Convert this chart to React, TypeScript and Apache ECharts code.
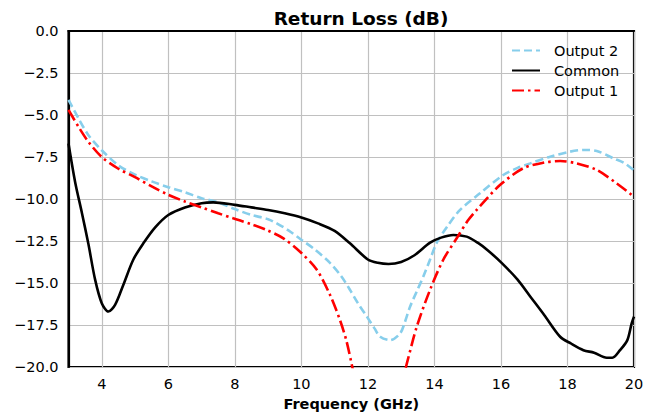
import React, { useEffect, useRef } from "react";
import * as echarts from "echarts";

const titleText = "Return Loss (dB)";
const xAxisName = "Frequency (GHz)";
const seriesNames = ["Output 2", "Common", "Output 1"];

const freqOutput2 = [3.0, 3.3, 3.6, 4.0, 4.5, 5.0, 5.5, 6.0, 6.5, 7.0, 7.5, 8.0, 8.5, 9.0, 9.26, 9.6, 10.01, 10.4, 10.86, 11.2, 11.46, 11.7, 11.97, 12.2, 12.37, 12.67, 12.97, 13.1, 13.27, 13.47, 13.67, 13.87, 14.07, 14.4, 14.77, 15.37, 16.07, 16.5, 16.88, 17.48, 18.08, 18.48, 18.88, 19.38, 19.7, 20.0];
const lossOutput2 = [-4.1, -5.2, -6.2, -7.1, -8.0, -8.55, -8.95, -9.3, -9.6, -9.95, -10.2, -10.6, -10.95, -11.2, -11.45, -11.85, -12.44, -13.0, -13.8, -14.6, -15.4, -16.2, -17.0, -17.7, -18.2, -18.4, -18.0, -17.4, -16.4, -15.5, -14.6, -13.6, -12.6, -11.6, -10.65, -9.66, -8.57, -8.15, -7.88, -7.48, -7.18, -7.08, -7.14, -7.58, -7.85, -8.3];

const freqCommon = [3.0, 3.2, 3.4, 3.6, 3.8, 4.0, 4.2, 4.4, 4.65, 4.95, 5.25, 5.6, 6.0, 6.5, 7.0, 7.35, 8.0, 8.5, 9.0, 9.5, 10.0, 10.5, 11.0, 11.46, 12.0, 12.3, 12.62, 13.0, 13.4, 13.87, 14.2, 14.57, 14.97, 15.3, 15.6, 16.02, 16.5, 16.88, 17.3, 17.78, 18.1, 18.48, 18.8, 19.18, 19.35, 19.58, 19.8, 19.93, 20.0];
const lossCommon = [-6.7, -9.0, -10.8, -12.7, -14.8, -16.2, -16.7, -16.3, -15.1, -13.6, -12.64, -11.7, -10.95, -10.5, -10.25, -10.2, -10.35, -10.5, -10.65, -10.85, -11.1, -11.45, -11.9, -12.64, -13.6, -13.8, -13.87, -13.75, -13.35, -12.6, -12.3, -12.14, -12.24, -12.6, -13.05, -13.8, -14.8, -15.8, -16.9, -18.2, -18.6, -19.0, -19.15, -19.45, -19.45, -19.0, -18.4, -17.4, -17.0];

const freqOutput1 = [3.0, 3.3, 3.6, 4.0, 4.5, 5.0, 5.5, 6.0, 6.5, 7.0, 7.5, 7.95, 8.5, 8.96, 9.46, 10.01, 10.46, 10.86, 11.16, 11.35, 11.51, 11.7, 12.3, 12.9, 13.17, 13.47, 13.87, 14.27, 14.67, 15.0, 15.27, 15.97, 16.67, 17.27, 17.78, 18.28, 18.88, 19.48, 19.93, 20.0];
const lossOutput1 = [-4.7, -5.7, -6.6, -7.5, -8.2, -8.7, -9.25, -9.75, -10.15, -10.5, -10.85, -11.15, -11.5, -11.85, -12.34, -13.23, -14.2, -15.7, -17.2, -18.4, -19.8, -21.5, -25.0, -21.8, -19.8, -17.6, -15.4, -13.6, -12.34, -11.3, -10.65, -9.17, -8.17, -7.84, -7.74, -7.88, -8.27, -9.07, -9.76, -9.9];

const xMin = 3;
const xMax = 20;
const yMin = -20;
const yMax = 0;
const yStep = 2.5;

const pair = (xs: number[], ys: number[]) => xs.map((x, i) => [x, ys[i]]);
const minusFmt = (s: string) => s.replace("-", "\u2212");

export default function App() {
  const ref = useRef<HTMLDivElement>(null);
  useEffect(() => {
    if (!ref.current) return;
    const chart = echarts.init(ref.current, null, { renderer: "svg" });
    const font = "DejaVu Sans";
    chart.setOption({
      animation: false,
      backgroundColor: "#ffffff",
      title: {
        text: titleText,
        left: 356,
        top: 4,
        textAlign: "center",
        textStyle: { fontFamily: font, fontWeight: "bold", fontSize: 18.5, color: "#000" },
      },
      legend: {
        orient: "vertical",
        left: 511,
        top: 43,
        padding: 0,
        itemWidth: 28,
        itemHeight: 14,
        itemGap: 5,
        data: seriesNames,
        itemStyle: { opacity: 0, borderWidth: 0 },
        textStyle: { fontFamily: font, fontSize: 14.5, lineHeight: 14, color: "#000", padding: [0, 0, 0, 9] },
      },
      grid: {
        left: 68.5,
        right: 24,
        top: 31,
        bottom: 52,
        show: true,
        borderColor: "#000",
        borderWidth: 2.2,
        containLabel: false,
      },
      xAxis: {
        type: "value",
        min: xMin,
        max: xMax,
        splitNumber: 8,
        name: xAxisName,
        nameLocation: "middle",
        nameGap: 29,
        nameTextStyle: { fontFamily: font, fontWeight: "bold", fontSize: 14.5, color: "#000" },
        axisLine: { show: true, lineStyle: { color: "#000", width: 2.2 } },
        axisTick: { show: false },
        axisLabel: {
          showMinLabel: false,
          margin: 9,
          fontFamily: font,
          fontSize: 14.5,
          color: "#000",
          formatter: (v: number) => (v === xMin ? "" : minusFmt(String(v))),
        },
        splitLine: { show: true, lineStyle: { color: "#c0c0c0", width: 1.2 } },
      },
      yAxis: {
        type: "value",
        min: yMin,
        max: yMax,
        interval: yStep,
        axisLine: { show: true, lineStyle: { color: "#000", width: 2.2 } },
        axisTick: { show: false },
        axisLabel: {
          margin: 10,
          fontFamily: font,
          fontSize: 14.5,
          color: "#000",
          formatter: (v: number) => minusFmt(v.toFixed(1)),
        },
        splitLine: { show: true, lineStyle: { color: "#c0c0c0", width: 1.2 } },
      },
      series: [
        {
          name: seriesNames[0],
          type: "line",
          data: pair(freqOutput2, lossOutput2),
          showSymbol: false,
          symbol: "none",
          smooth: 0.3,
          color: "#87CEEB",
          lineStyle: { color: "#87CEEB", width: 2.6, type: [8, 4] },
        },
        {
          name: seriesNames[1],
          type: "line",
          data: pair(freqCommon, lossCommon),
          showSymbol: false,
          symbol: "none",
          smooth: 0.3,
          color: "#000000",
          lineStyle: { color: "#000000", width: 2.6, type: "solid" },
        },
        {
          name: seriesNames[2],
          type: "line",
          data: pair(freqOutput1, lossOutput1),
          showSymbol: false,
          symbol: "none",
          smooth: 0.3,
          color: "#ff0000",
          lineStyle: { color: "#ff0000", width: 2.6, type: [12, 4, 2.5, 4] },
        },
      ],
    });
    return () => chart.dispose();
  }, []);
  return (
    <div
      ref={ref}
      style={{ position: "fixed", left: 0, top: 0, width: 658, height: 419 }}
    />
  );
}
